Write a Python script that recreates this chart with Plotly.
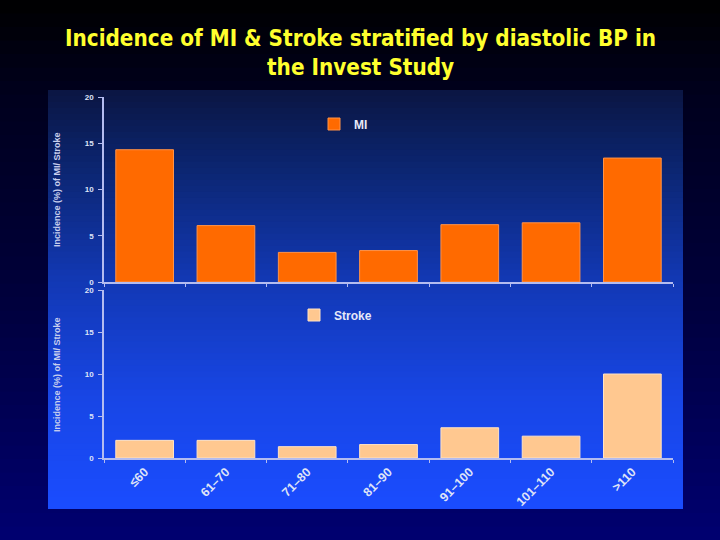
import plotly.graph_objects as go

W, H = 720, 540

categories = ["≤60", "61–70", "71–80", "81–90", "91–100", "101–110", ">110"]
mi_values = [14.3, 6.1, 3.2, 3.4, 6.2, 6.4, 13.4]
stroke_values = [2.1, 2.1, 1.35, 1.6, 3.6, 2.6, 10.0]
y_ticks = [0, 5, 10, 15, 20]

AXIS_COLOR = "#b4bcf0"
TICK_FONT = dict(family="Liberation Sans, Arial, sans-serif", size=8, color="#dfe3f7", weight="bold")


def px_x(x):
    return x / W


def px_y(y):
    return 1 - y / H


def hex_to_rgb(h):
    h = h.lstrip("#")
    return tuple(int(h[i:i + 2], 16) for i in (0, 2, 4))


def gradient_bands(x0, x1, stops, n=60):
    # stops: (pixel_y, hex colour), top to bottom; each band runs to the bottom so no seams
    shapes = []
    y_top, y_bot = stops[0][0], stops[-1][0]
    step = (y_bot - y_top) / n
    for i in range(n):
        ym = y_top + (i + 0.5) * step
        for (ya, ca), (yb, cb) in zip(stops[:-1], stops[1:]):
            if ya <= ym <= yb:
                t = (ym - ya) / (yb - ya)
                a, b = hex_to_rgb(ca), hex_to_rgb(cb)
                rgb = tuple(round(a[k] + (b[k] - a[k]) * t) for k in range(3))
                break
        shapes.append(dict(
            type="rect", xref="paper", yref="paper", layer="below",
            x0=px_x(x0), x1=px_x(x1),
            y0=px_y(y_bot), y1=px_y(y_top + i * step),
            fillcolor="rgb(%d,%d,%d)" % rgb, line=dict(width=0),
        ))
    return shapes


page_stops = [(0, "#000000"), (90, "#00001c"), (300, "#00003c"), (540, "#000070")]
panel_stops = [(90, "#0b1542"), (150, "#0b2266"), (280, "#1238b4"), (400, "#1846e6"), (509, "#1a4cff")]

fig = go.Figure()
fig.add_trace(go.Bar(
    x=categories, y=mi_values, name="MI", xaxis="x", yaxis="y",
    marker=dict(color="#ff6a00", line=dict(color="#ff9348", width=1)),
    legend="legend",
))
fig.add_trace(go.Bar(
    x=categories, y=stroke_values, name="Stroke", xaxis="x2", yaxis="y2",
    marker=dict(color="#ffc890", line=dict(color="#ffe2c4", width=1)),
    legend="legend2",
))

xdom = [px_x(104), px_x(673)]
common_x = dict(
    domain=xdom, showline=True, linecolor=AXIS_COLOR, linewidth=1.5,
    ticks="outside", ticklen=3, tickcolor=AXIS_COLOR, tickson="boundaries",
    showgrid=False, zeroline=False, automargin=False,
)
common_y = dict(
    range=[0, 20], tickvals=y_ticks, showline=True, linecolor=AXIS_COLOR, linewidth=1.5,
    ticks="outside", ticklen=4, tickcolor=AXIS_COLOR, tickfont=TICK_FONT,
    showgrid=False, zeroline=False, automargin=False, ticklabelstandoff=3,
)

legend_font = dict(family="Liberation Sans, Arial, sans-serif", size=12, color="#e6e8f8", weight="bold")

fig.update_layout(
    width=W, height=H,
    margin=dict(l=0, r=0, t=0, b=0),
    paper_bgcolor="#000010", plot_bgcolor="rgba(0,0,0,0)",
    bargap=0.29, showlegend=True,
    xaxis=dict(**common_x, anchor="y", showticklabels=False),
    yaxis=dict(**common_y, domain=[px_y(282), px_y(97)], anchor="x"),
    xaxis2=dict(**common_x, anchor="y2", tickangle=-45,
                tickfont=dict(family="Liberation Sans, Arial, sans-serif", size=12.5,
                              color="#dfe3f7", weight="bold")),
    yaxis2=dict(**common_y, domain=[px_y(458), px_y(290)], anchor="x2"),
    legend=dict(x=px_x(314), y=px_y(124), xanchor="left", yanchor="middle",
                bgcolor="rgba(0,0,0,0)", font=legend_font, itemclick=False),
    legend2=dict(x=px_x(294), y=px_y(315), xanchor="left", yanchor="middle",
                 bgcolor="rgba(0,0,0,0)", font=legend_font, itemclick=False),
    shapes=gradient_bands(0, W, page_stops, n=40) + gradient_bands(48, 683, panel_stops, n=70),
)

title_font = dict(family="DejaVu Sans Condensed, Liberation Sans Narrow, sans-serif",
                  size=22.3, color="#ffff2e", weight="bold")
for line, yc in (("Incidence of MI & Stroke stratified by diastolic BP in", 38),
                 ("the Invest Study", 67)):
    fig.add_annotation(text=line, xref="paper", yref="paper", x=0.5, y=px_y(yc),
                       xanchor="center", yanchor="middle", showarrow=False, font=title_font)

ytitle_font = dict(family="Liberation Sans, Arial, sans-serif", size=9, color="#c9cfee", weight="bold")
for yc in (190, 375):
    fig.add_annotation(
        text="Incidence (%) of MI/ Stroke", xref="paper", yref="paper",
        x=px_x(57), y=px_y(yc), xanchor="center", yanchor="middle",
        textangle=-90, showarrow=False, font=ytitle_font,
    )

fig.write_html(
    "out.html",
    config={"displayModeBar": False},
    post_script="document.body.style.margin='0';document.body.style.background='#000';",
)
